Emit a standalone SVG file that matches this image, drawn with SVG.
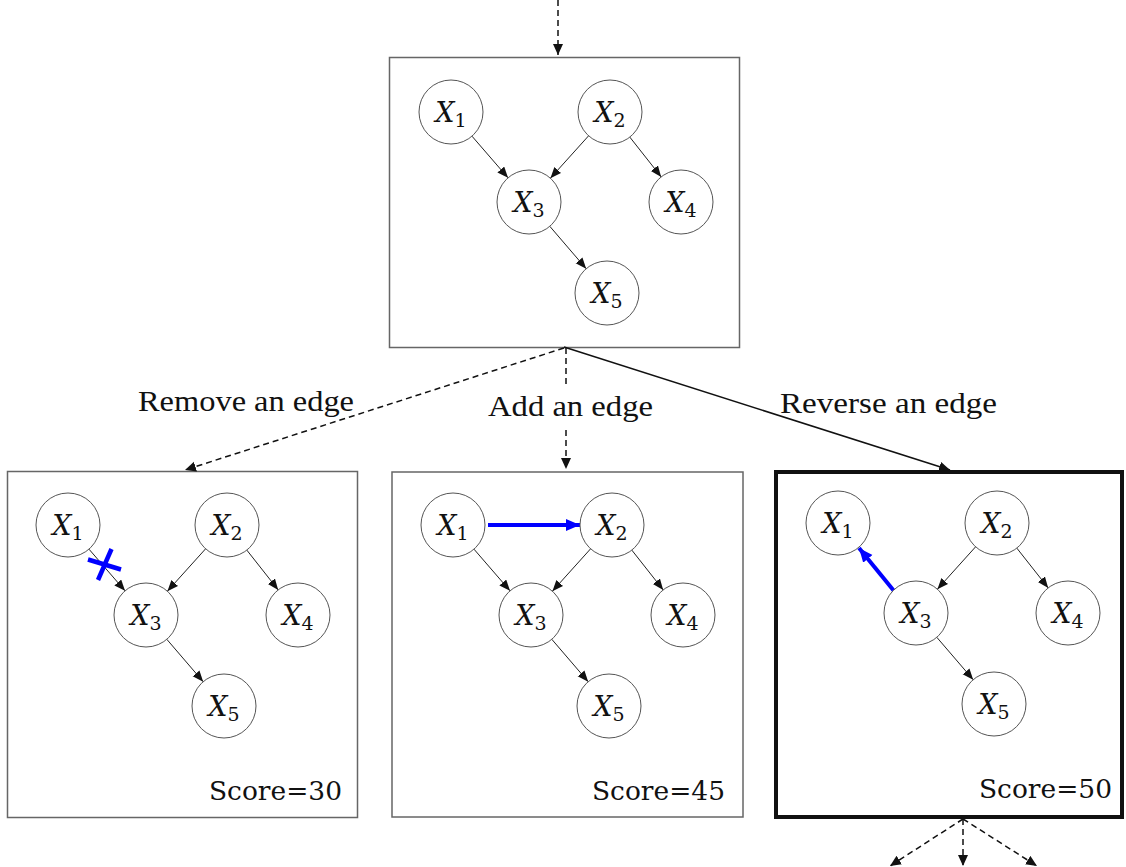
<svg xmlns="http://www.w3.org/2000/svg" width="1126" height="867" viewBox="0 0 1126 867">
<style>
.box{fill:#fff;stroke:#666;stroke-width:1.5}
.box-best{fill:#fff;stroke:#111;stroke-width:4}
.nd{fill:#fff;stroke:#555;stroke-width:1}
.lbl{font-family:"DejaVu Serif",serif;font-size:27px;font-style:italic;fill:#111}
.sub{font-size:19px;font-style:normal}
.e{stroke:#222;stroke-width:1;fill:none;marker-end:url(#ah)}
.eb{stroke:#0000ff;stroke-width:4;fill:none;marker-end:url(#ahb)}
.cross{stroke:#0000ff;stroke-width:4.5;fill:none}
.dash{stroke:#111;stroke-width:1.5;stroke-dasharray:6,4;fill:none}
.solid{stroke:#111;stroke-width:1.5;fill:none}
.op{font-family:"Liberation Serif",serif;font-size:30px;fill:#111}
.score{font-family:"DejaVu Serif",serif;font-size:26px;fill:#111;text-anchor:end}
</style>
<defs>
<marker id="ah" markerUnits="userSpaceOnUse" markerWidth="12" markerHeight="10" refX="11" refY="4.5" orient="auto"><path d="M0,0 L11,4.5 L0,9 z" fill="#111"/></marker>
<marker id="ahb" markerUnits="userSpaceOnUse" markerWidth="15" markerHeight="13" refX="14" refY="6" orient="auto"><path d="M0,0 L14,6 L0,12 z" fill="#0000ff"/></marker>
<marker id="ahd" markerUnits="userSpaceOnUse" markerWidth="12" markerHeight="11" refX="11" refY="5" orient="auto"><path d="M0,0 L11,5 L0,10 z" fill="#111"/></marker>
</defs>
<rect width="1126" height="867" fill="#fff"/>

<!-- panel boxes -->
<g id="box-top"><rect class="box" x="389.5" y="57.5" width="350" height="290"/></g>
<g id="box-remove"><rect class="box" x="7.5" y="471.5" width="350" height="346"/></g>
<g id="box-add"><rect class="box" x="392" y="472" width="351" height="345"/></g>
<g id="box-reverse"><rect class="box-best" x="776" y="472" width="346" height="345"/></g>

<!-- connectors between panels -->
<g id="connectors">
<line class="dash" x1="558" y1="0" x2="558" y2="55" marker-end="url(#ahd)"/>
<line class="dash" x1="564" y1="348" x2="185" y2="470" marker-end="url(#ahd)"/>
<line class="dash" x1="566" y1="348" x2="566" y2="385"/>
<line class="dash" x1="566" y1="430" x2="566" y2="469" marker-end="url(#ahd)"/>
<line class="solid" x1="564" y1="347" x2="950" y2="470" marker-end="url(#ahd)"/>
<line class="dash" x1="963" y1="819" x2="890" y2="866" marker-end="url(#ahd)"/>
<line class="dash" x1="963" y1="819" x2="963" y2="866" marker-end="url(#ahd)"/>
<line class="dash" x1="963" y1="819" x2="1037" y2="866" marker-end="url(#ahd)"/>
</g>

<!-- operation labels -->
<text class="op" x="138" y="411" textLength="216" lengthAdjust="spacingAndGlyphs">Remove an edge</text>
<text class="op" x="488" y="416" textLength="165" lengthAdjust="spacingAndGlyphs">Add an edge</text>
<text class="op" x="780" y="413" textLength="217" lengthAdjust="spacingAndGlyphs">Reverse an edge</text>

<!-- top panel -->
<g id="top" transform="translate(451,112)">
<g id="top-edges">
<line class="e" x1="21" y1="24.2" x2="57" y2="65.8"/>
<line class="e" x1="137.6" y1="23.8" x2="99.4" y2="66.2"/>
<line class="e" x1="178.8" y1="25.1" x2="210.2" y2="64.9"/>
<line class="e" x1="98.8" y1="114.3" x2="135.2" y2="156.7"/>
</g>
<g id="top-x1"><circle class="nd" cx="0" cy="0" r="32"/><text class="lbl" x="0" y="10" text-anchor="middle">X<tspan class="sub" dy="5">1</tspan></text></g>
<g id="top-x2"><circle class="nd" cx="159" cy="0" r="32"/><text class="lbl" x="159" y="10" text-anchor="middle">X<tspan class="sub" dy="5">2</tspan></text></g>
<g id="top-x3"><circle class="nd" cx="78" cy="90" r="32"/><text class="lbl" x="78" y="100" text-anchor="middle">X<tspan class="sub" dy="5">3</tspan></text></g>
<g id="top-x4"><circle class="nd" cx="230" cy="90" r="32"/><text class="lbl" x="230" y="100" text-anchor="middle">X<tspan class="sub" dy="5">4</tspan></text></g>
<g id="top-x5"><circle class="nd" cx="156" cy="181" r="32"/><text class="lbl" x="156" y="191" text-anchor="middle">X<tspan class="sub" dy="5">5</tspan></text></g>
</g>

<!-- remove panel -->
<g id="remove" transform="translate(68,525)">
<g id="remove-edges">
<line class="e" x1="21" y1="24.2" x2="57" y2="65.8"/>
<line class="e" x1="137.6" y1="23.8" x2="99.4" y2="66.2"/>
<line class="e" x1="178.8" y1="25.1" x2="210.2" y2="64.9"/>
<line class="e" x1="98.8" y1="114.3" x2="135.2" y2="156.7"/>
<line class="cross" x1="20" y1="34.5" x2="53" y2="44.5"/>
<line class="cross" x1="30" y1="55" x2="43.5" y2="24"/>
</g>
<g id="remove-x1"><circle class="nd" cx="0" cy="0" r="32"/><text class="lbl" x="0" y="10" text-anchor="middle">X<tspan class="sub" dy="5">1</tspan></text></g>
<g id="remove-x2"><circle class="nd" cx="159" cy="0" r="32"/><text class="lbl" x="159" y="10" text-anchor="middle">X<tspan class="sub" dy="5">2</tspan></text></g>
<g id="remove-x3"><circle class="nd" cx="78" cy="90" r="32"/><text class="lbl" x="78" y="100" text-anchor="middle">X<tspan class="sub" dy="5">3</tspan></text></g>
<g id="remove-x4"><circle class="nd" cx="230" cy="90" r="32"/><text class="lbl" x="230" y="100" text-anchor="middle">X<tspan class="sub" dy="5">4</tspan></text></g>
<g id="remove-x5"><circle class="nd" cx="156" cy="181" r="32"/><text class="lbl" x="156" y="191" text-anchor="middle">X<tspan class="sub" dy="5">5</tspan></text></g>
</g>
<text class="score" x="342" y="800" textLength="133" lengthAdjust="spacingAndGlyphs">Score=30</text>

<!-- add panel -->
<g id="add" transform="translate(453,525)">
<g id="add-edges">
<line class="e" x1="21" y1="24.2" x2="57" y2="65.8"/>
<line class="e" x1="137.6" y1="23.8" x2="99.4" y2="66.2"/>
<line class="e" x1="178.8" y1="25.1" x2="210.2" y2="64.9"/>
<line class="e" x1="98.8" y1="114.3" x2="135.2" y2="156.7"/>
<line class="eb" x1="35" y1="0" x2="127" y2="0"/>
</g>
<g id="add-x1"><circle class="nd" cx="0" cy="0" r="32"/><text class="lbl" x="0" y="10" text-anchor="middle">X<tspan class="sub" dy="5">1</tspan></text></g>
<g id="add-x2"><circle class="nd" cx="159" cy="0" r="32"/><text class="lbl" x="159" y="10" text-anchor="middle">X<tspan class="sub" dy="5">2</tspan></text></g>
<g id="add-x3"><circle class="nd" cx="78" cy="90" r="32"/><text class="lbl" x="78" y="100" text-anchor="middle">X<tspan class="sub" dy="5">3</tspan></text></g>
<g id="add-x4"><circle class="nd" cx="230" cy="90" r="32"/><text class="lbl" x="230" y="100" text-anchor="middle">X<tspan class="sub" dy="5">4</tspan></text></g>
<g id="add-x5"><circle class="nd" cx="156" cy="181" r="32"/><text class="lbl" x="156" y="191" text-anchor="middle">X<tspan class="sub" dy="5">5</tspan></text></g>
</g>
<text class="score" x="725" y="800" textLength="133" lengthAdjust="spacingAndGlyphs">Score=45</text>

<!-- reverse panel -->
<g id="reverse" transform="translate(838,523)">
<g id="reverse-edges">
<line class="e" x1="137.6" y1="23.8" x2="99.4" y2="66.2"/>
<line class="e" x1="178.8" y1="25.1" x2="210.2" y2="64.9"/>
<line class="e" x1="98.8" y1="114.3" x2="135.2" y2="156.7"/>
<line class="eb" x1="56" y1="68" x2="21" y2="25"/>
</g>
<g id="reverse-x1"><circle class="nd" cx="0" cy="0" r="32"/><text class="lbl" x="0" y="10" text-anchor="middle">X<tspan class="sub" dy="5">1</tspan></text></g>
<g id="reverse-x2"><circle class="nd" cx="159" cy="0" r="32"/><text class="lbl" x="159" y="10" text-anchor="middle">X<tspan class="sub" dy="5">2</tspan></text></g>
<g id="reverse-x3"><circle class="nd" cx="78" cy="90" r="32"/><text class="lbl" x="78" y="100" text-anchor="middle">X<tspan class="sub" dy="5">3</tspan></text></g>
<g id="reverse-x4"><circle class="nd" cx="230" cy="90" r="32"/><text class="lbl" x="230" y="100" text-anchor="middle">X<tspan class="sub" dy="5">4</tspan></text></g>
<g id="reverse-x5"><circle class="nd" cx="156" cy="181" r="32"/><text class="lbl" x="156" y="191" text-anchor="middle">X<tspan class="sub" dy="5">5</tspan></text></g>
</g>
<text class="score" x="1112" y="798" textLength="133" lengthAdjust="spacingAndGlyphs">Score=50</text>
</svg>
